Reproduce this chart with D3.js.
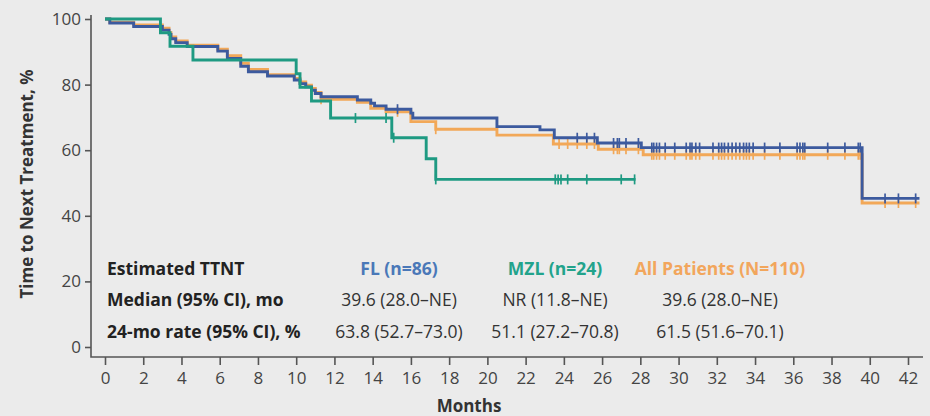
<!DOCTYPE html>
<html><head><meta charset="utf-8">
<script src="https://cdn.jsdelivr.net/npm/d3@7/dist/d3.min.js"></script>
<style>
html,body{margin:0;padding:0;background:#ebebeb;}
svg{display:block;font-family:"Open Sans",sans-serif;}
</style></head>
<body><svg id="c" width="930" height="416"></svg>
<script>
// ---- Data ----
const xTicks = [0,2,4,6,8,10,12,14,16,18,20,22,24,26,28,30,32,34,36,38,40,42];
const yTicks = [0,20,40,60,80,100];

// FL (n=86)
const flTimes = [0,0.25,1.5,3.0,3.35,3.45,3.7,4.3,5.9,6.4,7.1,7.5,8.5,9.9,10.2,10.5,10.8,11.0,11.3,13.2,13.9,14.1,14.7,16.0,16.1,20.5,22.75,23.5,25.75,28.05,39.6];
const flSurv  = [100,98.8,97.7,96.6,95.3,94.0,92.8,91.6,90.2,88.0,85.6,83.9,82.6,81.4,80.3,79.3,78.3,77.3,76.3,75.3,74.3,73.5,72.5,71.3,69.8,67.2,66.2,63.8,62.2,60.8,45.3];
const flEnd = 42.6;
const flCensor = [15.3,24.7,25.2,25.6,26.6,26.8,26.9,27.25,27.9,28.6,28.7,28.85,29.0,29.3,29.8,30.4,30.6,30.7,30.9,31.1,31.8,32.1,32.25,32.4,32.6,32.8,33.0,33.2,33.4,33.55,33.7,33.9,34.5,35.3,36.2,36.35,36.5,36.6,37.8,38.7,39.4,39.5,40.8,41.5,42.4];

// MZL (n=24)
const mzlTimes = [0,2.9,3.4,4.6,10.0,10.2,10.8,11.8,15.0,16.8,17.3];
const mzlSurv  = [100,95.8,91.7,87.5,83.3,79.2,75.0,69.8,63.8,57.4,51.1];
const mzlEnd = 27.75;
const mzlCensor = [13.1,14.7,15.1,17.3,23.55,23.7,23.85,24.2,25.2,27.0,27.7];

// All patients (N=110)
const allTimes = [0,0.25,1.5,3.0,3.35,3.45,3.7,4.3,5.9,6.4,7.1,7.5,8.5,9.9,10.2,10.5,10.8,11.0,11.3,13.2,13.9,14.7,16.0,17.3,20.5,23.45,25.8,28.15,39.6];
const allSurv  = [100,99.0,98.2,97.2,95.8,94.5,93.3,92.0,90.8,88.8,86.5,84.6,83.0,81.9,80.8,79.8,78.8,77.6,75.5,74.6,72.8,71.7,68.7,66.4,64.6,61.9,60.3,58.6,43.9];
const allEnd = 42.6;
const allCensor = [11.3,15.3,17.3,23.75,24.2,24.7,25.2,25.6,26.6,26.8,26.9,27.25,27.9,28.6,28.7,28.85,29.0,29.3,29.8,30.4,30.6,30.7,30.9,31.1,31.8,32.1,32.25,32.4,32.6,32.8,33.0,33.2,33.4,33.55,33.7,33.9,34.5,35.3,36.2,36.35,36.5,36.6,37.8,38.7,39.4,39.5,40.8,41.5,42.4];

const tableHeaders = ["FL (n=86)","MZL (n=24)","All Patients (N=110)"];
const rowLabels = ["Estimated TTNT","Median (95% CI), mo","24-mo rate (95% CI), %"];
const medianRow = ["39.6 (28.0–NE)","NR (11.8–NE)","39.6 (28.0–NE)"];
const rateRow = ["63.8 (52.7–73.0)","51.1 (27.2–70.8)","61.5 (51.6–70.1)"];

// ---- Styles ----
const C_FL = "#3c5a9e", C_MZL = "#1e9a82", C_ALL = "#f2a858";
const T_FL = "#4a78b8", T_MZL = "#22a38b", T_ALL = "#f2a65c";
const AX = "#555";

const svg = d3.select("#c");
const x = d3.scaleLinear().domain([0,42]).range([105,908]);
const y = d3.scaleLinear().domain([0,100]).range([347,19]);

// axes
const gy = svg.append("g").attr("transform","translate(91,0)")
  .call(d3.axisLeft(y).tickValues(yTicks).tickSize(6).tickSizeOuter(0));
gy.select(".domain").remove();
const gx = svg.append("g").attr("transform","translate(0,357)")
  .call(d3.axisBottom(x).tickValues(xTicks).tickSize(8).tickSizeOuter(0));
gx.select(".domain").remove();
[gx,gy].forEach(g=>{
  g.selectAll("line").attr("stroke",AX).attr("stroke-width",1.6);
  g.selectAll("text").attr("fill","#444").style("font-size","17px").style("font-family","Open Sans");
});
gx.selectAll("text").attr("dy","0.95em");
gy.selectAll("text").attr("x",-10);
svg.append("path").attr("d",`M91,15V357H923`).attr("fill","none").attr("stroke",AX).attr("stroke-width",1.6);

svg.append("text").attr("transform","translate(26,184) rotate(-90)")
  .attr("text-anchor","middle").attr("dominant-baseline","central")
  .style("font-size","17px").style("font-weight","700").attr("fill","#333")
  .text("Time to Next Treatment, %");
svg.append("text").attr("x",469).attr("y",412).attr("text-anchor","middle")
  .style("font-size","17px").style("font-weight","700").attr("fill","#333").text("Months");

// curves
function survAt(times, surv, t){
  let v = surv[0];
  for(let i=0;i<times.length;i++){ if(times[i] <= t) v = surv[i]; }
  return v;
}
const line = d3.line().x(d=>x(d[0])).y(d=>y(d[1])).curve(d3.curveStepAfter);
function drawSeries(times, surv, end, censor, color){
  const pts = times.map((t,i)=>[t,surv[i]]);
  pts.push([end, surv[surv.length-1]]);
  svg.append("path").datum(pts).attr("d",line).attr("fill","none")
    .attr("stroke",color).attr("stroke-width",2.9).attr("stroke-linejoin","miter");
  svg.append("g").selectAll("line").data(censor).join("line")
    .attr("x1",d=>x(d)).attr("x2",d=>x(d))
    .attr("y1",d=>y(survAt(times,surv,d))-5).attr("y2",d=>y(survAt(times,surv,d))+5)
    .attr("stroke",color).attr("stroke-width",1.7);
}
drawSeries(allTimes, allSurv, allEnd, allCensor, C_ALL);
drawSeries(flTimes, flSurv, flEnd, flCensor, C_FL);
drawSeries(mzlTimes, mzlSurv, mzlEnd, mzlCensor, C_MZL);

// table
const rowY = [275,306,338];
const colX = [399,555,720];
const hdrColors = [T_FL,T_MZL,T_ALL];
rowLabels.forEach((t,i)=>{
  svg.append("text").attr("x",107).attr("y",rowY[i]).style("font-size","17.5px")
    .style("font-weight","700").attr("fill","#222").text(t);
});
tableHeaders.forEach((t,i)=>{
  svg.append("text").attr("x",colX[i]).attr("y",rowY[0]).attr("text-anchor","middle")
    .style("font-size","17.5px").style("font-weight","700").attr("fill",hdrColors[i]).text(t);
});
[medianRow, rateRow].forEach((row,r)=>{
  row.forEach((t,i)=>{
    svg.append("text").attr("x",colX[i]).attr("y",rowY[r+1]).attr("text-anchor","middle")
      .style("font-size","17.5px").attr("fill","#333").text(t);
  });
});
</script></body></html>
